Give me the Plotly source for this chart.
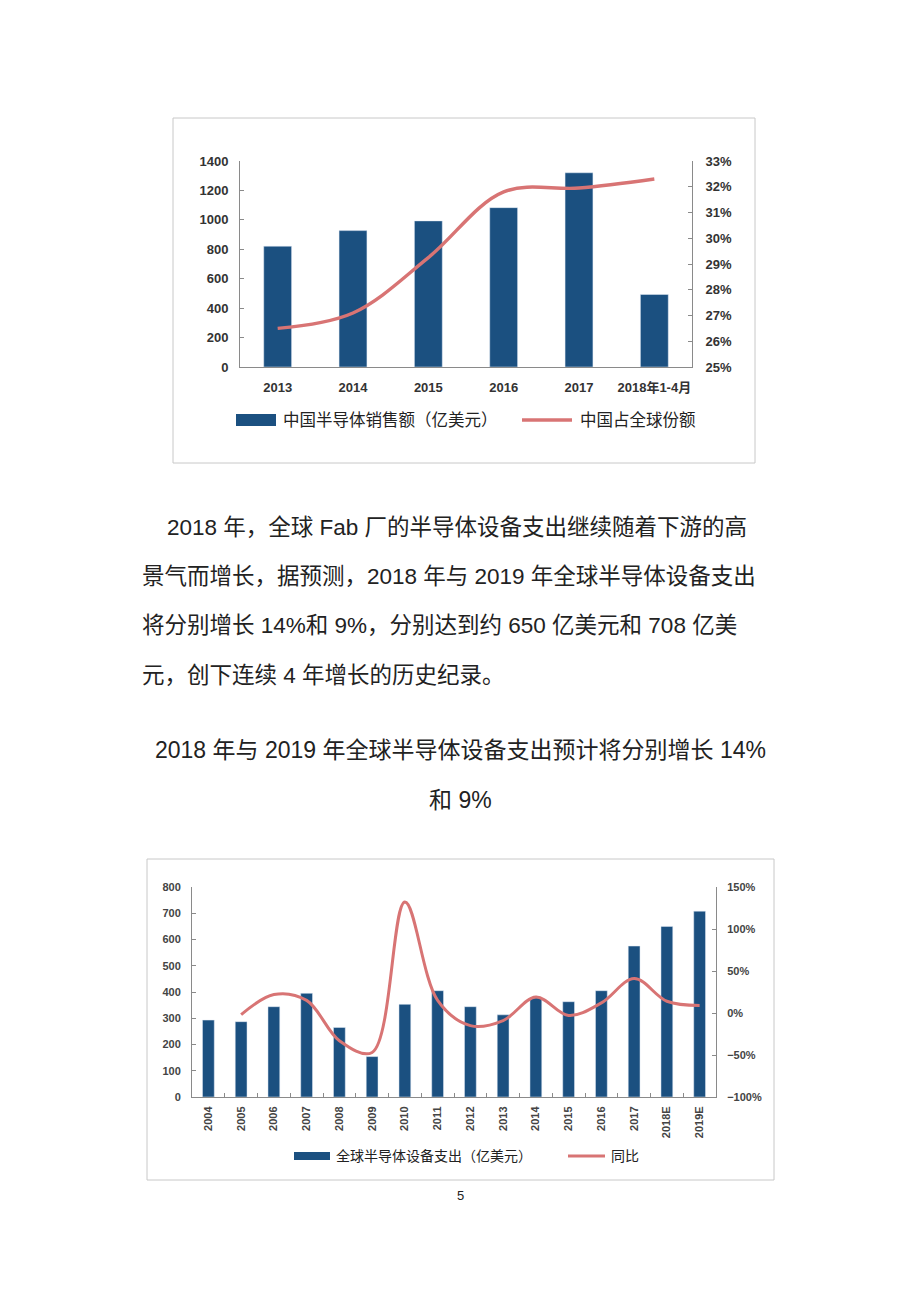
import plotly.graph_objects as go

# The page body has an 8px default margin; the figure is sized to fit the window exactly.
OFF = 8
W, H = 920 - 2 * OFF, 1302 - 2 * OFF

# ---- Chart 1 data ----
c1_categories = ["2013", "2014", "2015", "2016", "2017", "2018年1-4月"]
c1_sales = [821, 927, 993, 1083, 1320, 493]
c1_share = [26.5, 27.1, 29.25, 31.8, 31.95, 32.3]
c1_bar_name = "中国半导体销售额（亿美元）"
c1_line_name = "中国占全球份额"

# ---- Chart 2 data ----
c2_categories = ["2004", "2005", "2006", "2007", "2008", "2009", "2010", "2011",
                 "2012", "2013", "2014", "2015", "2016", "2017", "2018E", "2019E"]
c2_spend = [293, 287, 344, 395, 265, 154, 353, 405, 344, 313, 378, 363, 405, 575, 650, 708]
c2_yoy_categories = c2_categories[1:]
c2_yoy = [-2, 22, 15, -33, -47, 132, 15, -15, -9, 19, -3, 12, 41, 14, 9]
c2_bar_name = "全球半导体设备支出（亿美元）"
c2_line_name = "同比"

# ---- page text ----
para_lines = [
    "2018 年，全球 Fab 厂的半导体设备支出继续随着下游的高",
    "景气而增长，据预测，2018 年与 2019 年全球半导体设备支出",
    "将分别增长 14%和 9%，分别达到约 650 亿美元和 708 亿美",
    "元，创下连续 4 年增长的历史纪录。",
]
caption_lines = ["2018 年与 2019 年全球半导体设备支出预计将分别增长 14%", "和 9%"]
page_number = "5"

BAR = "#1B5080"
LINE = "#D87474"
FONT = "Liberation Sans, Arial, Noto Sans CJK SC, sans-serif"
TXT = "#222222"


def px(x):
    return (x - OFF) / W


def py(y):
    return 1 - (y - OFF) / H


fig = go.Figure()
fig.add_trace(go.Bar(x=c1_categories, y=c1_sales, name=c1_bar_name, marker_color=BAR,
                     width=0.37, xaxis="x", yaxis="y", showlegend=False))
fig.add_trace(go.Scatter(x=c1_categories, y=c1_share, name=c1_line_name, mode="lines",
                         line=dict(color=LINE, width=3.4, shape="spline", smoothing=1.0),
                         xaxis="x", yaxis="y2", showlegend=False))
fig.add_trace(go.Bar(x=c2_categories, y=c2_spend, name=c2_bar_name, marker_color=BAR,
                     width=0.36, xaxis="x2", yaxis="y3", showlegend=False))
fig.add_trace(go.Scatter(x=c2_yoy_categories, y=c2_yoy, name=c2_line_name, mode="lines",
                         line=dict(color=LINE, width=3, shape="spline", smoothing=1.0),
                         xaxis="x2", yaxis="y4", showlegend=False))

axis_common = dict(showgrid=False, zeroline=False, showline=True, linecolor="#8a8a8a",
                   linewidth=1, tickcolor="#8a8a8a", ticklen=4,
                   color=TXT, automargin=False)
f1 = dict(size=13, weight="bold", color="#333333")
f2 = dict(size=11, weight="bold", color="#444444")

fig.update_layout(
    width=W, height=H, margin=dict(l=0, r=0, t=0, b=0),
    paper_bgcolor="white", plot_bgcolor="white",
    font=dict(family=FONT, color=TXT),
    xaxis=dict(domain=[px(240), px(692)], anchor="y", tickfont=f1, tickangle=0,
               ticks="", ticklabelstandoff=8, **axis_common),
    yaxis=dict(domain=[py(367), py(161)], anchor="x", range=[0, 1400], dtick=200,
               ticks="inside", ticklabelstandoff=8, tickfont=f1, **axis_common),
    yaxis2=dict(overlaying="y", side="right", anchor="x", range=[25, 33], dtick=1,
                ticks="inside", ticklabelstandoff=10, ticksuffix="%", tickfont=f1,
                **axis_common),
    xaxis2=dict(domain=[px(192), px(716)], anchor="y3", tickfont=f2,
                tickangle=-90, ticks="inside", tickson="boundaries", ticklabelstandoff=4,
                **axis_common),
    yaxis3=dict(domain=[py(1097), py(887)], anchor="x2", range=[0, 800], dtick=100,
                ticks="inside", ticklabelstandoff=8, tickfont=f2, **axis_common),
    yaxis4=dict(overlaying="y3", side="right", anchor="x2", range=[-100, 150], dtick=50,
                ticks="inside", ticklabelstandoff=8, ticksuffix="%", tickfont=f2,
                **axis_common),
)

shapes = []
annotations = []
# frames
for (x0, y0, x1, y1) in [(173, 118, 755, 463), (147, 859, 774, 1180)]:
    shapes.append(dict(type="rect", xref="paper", yref="paper", x0=px(x0), x1=px(x1),
                       y0=py(y1), y1=py(y0), line=dict(color="#c8c8c8", width=1)))

# legend chart 1
shapes.append(dict(type="rect", xref="paper", yref="paper", x0=px(236), x1=px(276),
                   y0=py(426), y1=py(414), fillcolor=BAR, line=dict(width=0)))
shapes.append(dict(type="line", xref="paper", yref="paper", x0=px(522), x1=px(572),
                   y0=py(420), y1=py(420), line=dict(color=LINE, width=3.4)))
annotations.append(dict(text=c1_bar_name, x=px(281), y=py(420), xref="paper", yref="paper",
                        xanchor="left", yanchor="middle", showarrow=False,
                        font=dict(size=16.5, color=TXT)))
annotations.append(dict(text=c1_line_name, x=px(578), y=py(420), xref="paper", yref="paper",
                        xanchor="left", yanchor="middle", showarrow=False,
                        font=dict(size=16.5, color=TXT)))
# legend chart 2
shapes.append(dict(type="rect", xref="paper", yref="paper", x0=px(294), x1=px(330),
                   y0=py(1160), y1=py(1152), fillcolor=BAR, line=dict(width=0)))
shapes.append(dict(type="line", xref="paper", yref="paper", x0=px(568), x1=px(605),
                   y0=py(1156), y1=py(1156), line=dict(color=LINE, width=3)))
annotations.append(dict(text=c2_bar_name, x=px(334), y=py(1156), xref="paper", yref="paper",
                        xanchor="left", yanchor="middle", showarrow=False,
                        font=dict(size=14, color=TXT)))
annotations.append(dict(text=c2_line_name, x=px(609), y=py(1156), xref="paper", yref="paper",
                        xanchor="left", yanchor="middle", showarrow=False,
                        font=dict(size=14, color=TXT)))

# paragraph
para_x = [165, 140, 140, 140]
para_y = [527, 576, 626, 675]
for t, x, y in zip(para_lines, para_x, para_y):
    annotations.append(dict(text=t, x=px(x), y=py(y), xref="paper", yref="paper",
                            xanchor="left", yanchor="middle", showarrow=False,
                            font=dict(size=22.5, color=TXT)))
for t, y in zip(caption_lines, [750, 800]):
    annotations.append(dict(text=t, x=px(460), y=py(y), xref="paper", yref="paper",
                            xanchor="center", yanchor="middle", showarrow=False,
                            font=dict(size=23, color=TXT)))
annotations.append(dict(text=page_number, x=px(460), y=py(1195), xref="paper", yref="paper",
                        xanchor="center", yanchor="middle", showarrow=False,
                        font=dict(size=13, color=TXT)))

fig.update_layout(shapes=shapes, annotations=annotations)
fig.write_html("out.html")
